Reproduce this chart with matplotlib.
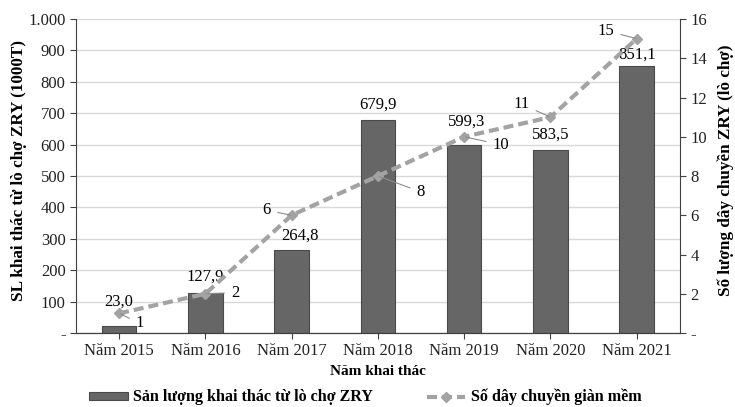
import numpy as np
import matplotlib.pyplot as plt
from matplotlib.ticker import FuncFormatter

years = ["Năm 2015", "Năm 2016", "Năm 2017", "Năm 2018", "Năm 2019", "Năm 2020", "Năm 2021"]
san_luong = [23.0, 127.9, 264.8, 679.9, 599.3, 583.5, 851.1]
day_chuyen = [1, 2, 6, 8, 10, 11, 15]

# label offsets in pixels (dx, dy) from the data point
bar_offs = [(0, 24), (0, 16), (8, 14), (0, 15), (2, 23), (0, 15), (0, 11)]
line_offs = [(21, -10), (30, 1), (-25, 5), (43, -16), (37, -8), (-29, 13), (-31, 8)]

plt.rcParams['font.family'] = ['Liberation Serif', 'DejaVu Serif']
plt.rcParams['font.size'] = 12

fig = plt.figure(figsize=(7.35, 4.07), dpi=100)
ax = fig.add_axes([0.1034, 0.1818, 0.8216, 0.7715])
ax2 = ax.twinx()

x = np.arange(len(years))
bar_col = '#666666'
line_col = '#a3a3a3'

ax.bar(x, san_luong, width=0.4, color=bar_col, edgecolor='#4a4a4a', linewidth=0.8,
       label='Sản lượng khai thác từ lò chợ ZRY', zorder=2)
ax.set_xlim(-0.5, len(years) - 0.5)
ax.set_ylim(0, 1000)
ax.set_yticks(np.arange(0, 1001, 100))
ax.yaxis.set_major_formatter(FuncFormatter(
    lambda v, p: '-' if v == 0 else f"{int(v):,}".replace(',', '.')))
ax.grid(axis='y', color='#d9d9d9', linewidth=1, zorder=0)
ax.set_axisbelow(True)
ax.set_xticks(x)
ax.set_xticklabels(years)

for xi, v, (dx, dy) in zip(x, san_luong, bar_offs):
    ax.annotate(f"{v:.1f}".replace('.', ','), (xi, v), xytext=(dx, dy),
                textcoords='offset pixels', ha='center', va='center', fontsize=12)

ax2.plot(x, day_chuyen, color=line_col, linestyle=(0, (2.4, 1.2)), linewidth=3,
         marker='D', markersize=5, label='Số dây chuyền giàn mềm', zorder=3)
ax2.set_ylim(0, 16)
ax2.set_yticks(np.arange(0, 17, 2))
ax2.yaxis.set_major_formatter(FuncFormatter(lambda v, p: '-' if v == 0 else f"{int(v)}"))

for xi, v, (dx, dy) in zip(x, day_chuyen, line_offs):
    ax2.annotate(str(v), (xi, v), xytext=(dx, dy), textcoords='offset pixels',
                 ha='center', va='center', fontsize=12,
                 arrowprops=dict(arrowstyle='-', color='#8c8c8c', lw=0.8,
                                 shrinkA=3, shrinkB=1))

for a in (ax, ax2):
    a.spines['top'].set_visible(False)
    for s in ('left', 'right', 'bottom'):
        a.spines[s].set_color('#404040')
    a.tick_params(colors='#222222', labelsize=12, length=4, color='#404040')
ax2.spines['left'].set_visible(False)
ax.spines['right'].set_visible(False)

ax.set_ylabel('SL khai thác từ lò chợ ZRY (1000T)', fontsize=12.3, fontweight='bold',
              va='center', ha='center')
ax.yaxis.set_label_coords(-0.095, 0.516)
ax2.set_ylabel('Số lượng dây chuyền ZRY (lò chợ)', fontsize=12.3, fontweight='bold',
               rotation=90, va='center', ha='center')
ax2.yaxis.set_label_coords(1.076, 0.519)
ax.set_xlabel('Năm khai thác', fontsize=11, fontweight='bold', labelpad=4)

h1, l1 = ax.get_legend_handles_labels()
h2, l2 = ax2.get_legend_handles_labels()
fig.legend(h1 + h2, l1 + l2, loc='center', bbox_to_anchor=(0.497, 0.024), ncol=2,
           frameon=False, prop={'weight': 'bold', 'size': 11.6}, columnspacing=3.3,
           handlelength=2.4, handleheight=0.4, handletextpad=0.35)

fig.savefig('out.png', dpi=100)
